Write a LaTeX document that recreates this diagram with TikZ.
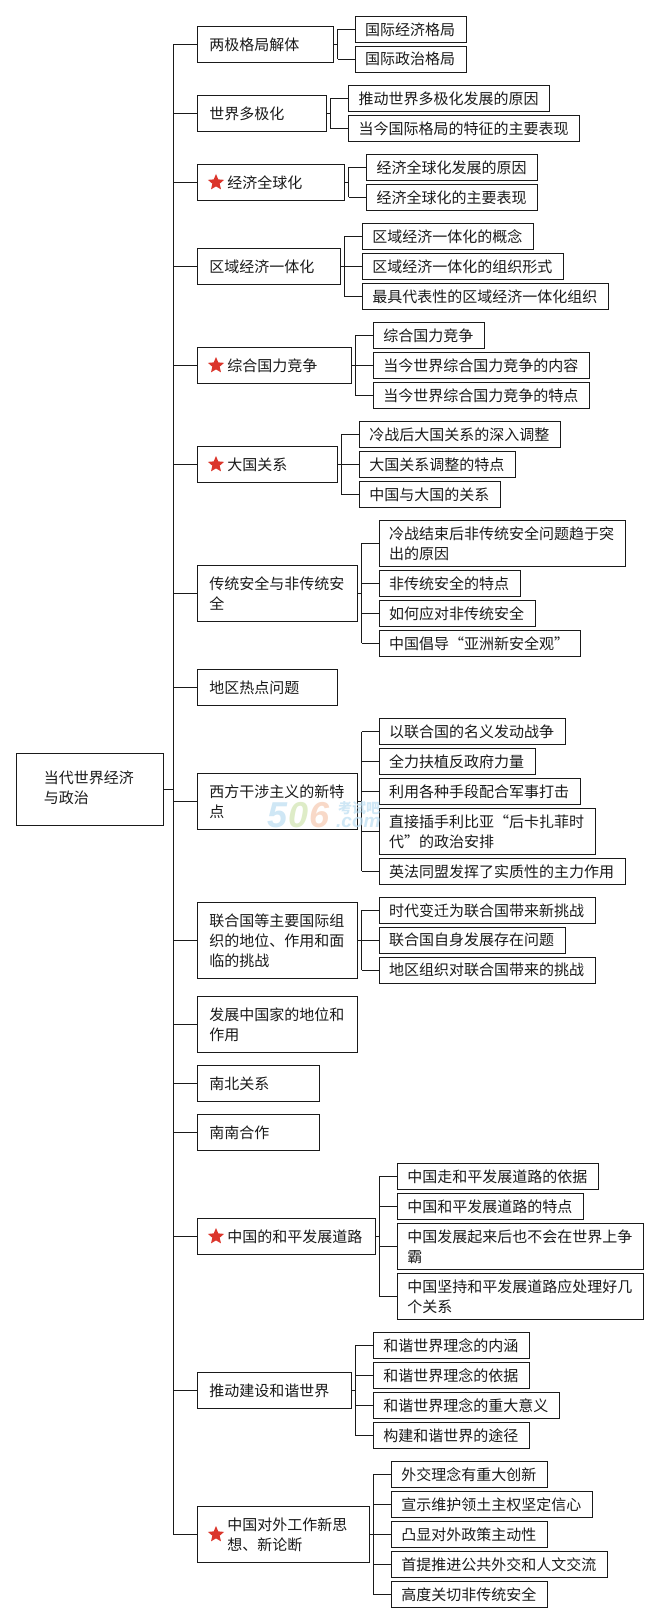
\documentclass[tikz,border=0pt]{standalone}
\usepackage{fontspec}
\setmainfont{Noto Sans CJK SC}
\newfontfamily\latinwm{Liberation Sans}
\usetikzlibrary{shapes.geometric}
\definecolor{ink}{HTML}{1A1A1A}
\definecolor{starred}{HTML}{DB352B}
\definecolor{wmblue}{HTML}{BFDFF2}
\definecolor{wmgreen}{HTML}{D3E6B5}
\definecolor{wmorange}{HTML}{F6CDB6}
\tikzset{
  x=1pt,y=-1pt,
  boxnode/.style={draw=ink,line width=0.9pt,fill=white,text=ink,rectangle,align=left,inner ysep=0pt,font=\fontsize{15}{20}\selectfont},
  link/.style={draw=ink,line width=0.9pt},
  starmark/.style={star,star points=5,star point ratio=2.2,fill=starred,draw=none,inner sep=0pt,minimum size=17pt},
  wm/.style={inner sep=0pt,anchor=west}
}
% name, x1, y1, x2, y2, left padding, text
\newcommand{\bx}[7]{%
  \pgfmathsetmacro{\bw}{#4-#2}\pgfmathsetmacro{\bh}{#5-#3}%
  \pgfmathsetmacro{\bcx}{(#2+#4)/2}\pgfmathsetmacro{\bcy}{(#3+#5)/2}%
  \node[boxnode,minimum width=\bw pt,minimum height=\bh pt,inner xsep=0pt,text width=\bw pt,anchor=center] (#1) at (\bcx,\bcy) {#7};}
% parent, bus x, kids
\newcommand{\kids}[3]{%
  \coordinate (#1bus) at (#2,0);
  \draw[link] (#1.east) -- (#1bus |- #1.east);
  \foreach \k in {#3}{\draw[link] (#1bus |- \k.west) -- (\k.west);}
}
\newcommand{\vbus}[3]{\draw[link] (#1bus |- #2.west) -- (#1bus |- #3.west);}
\begin{document}
\begin{tikzpicture}
\useasboundingbox (0,0) rectangle (660,1624);
\fill[white] (0,0) rectangle (660,1624);
% root
\node[boxnode,minimum width=147pt,minimum height=72pt,inner xsep=0pt] (root) at (89.85,789.3) {\makebox[147pt][l]{\hspace*{27.6pt}\begin{tabular}{@{}l@{}}当代世界经济\\与政治\end{tabular}}};
% level one
\bx{a}{197.4}{26.7}{333.3}{62.3}{12}{\hspace*{12pt}两极格局解体}
\bx{b}{197.4}{95.7}{326.2}{131.3}{12}{\hspace*{12pt}世界多极化}
\bx{c}{197.4}{164.3}{344.3}{200.3}{30}{\hspace*{30pt}经济全球化}
\bx{d}{197.4}{248.3}{340.5}{284.3}{12}{\hspace*{12pt}区域经济一体化}
\bx{e}{197.4}{347.7}{351.4}{383.3}{30}{\hspace*{30pt}综合国力竞争}
\bx{f}{197.4}{446.7}{337.5}{482.3}{30}{\hspace*{30pt}大国关系}
\bx{g}{197.4}{565.3}{357.7}{621.3}{12}{\hspace*{12pt}传统安全与非传统安\\\hspace*{12pt}全}
\bx{h}{197.4}{669.7}{337.5}{705.3}{12}{\hspace*{12pt}地区热点问题}
\bx{i}{197.4}{773.7}{357.7}{829.3}{12}{\hspace*{12pt}西方干涉主义的新特\\\hspace*{12pt}点}
\bx{j}{197.4}{902.7}{357.7}{978.3}{12}{\hspace*{12pt}联合国等主要国际组\\\hspace*{12pt}织的地位、作用和面\\\hspace*{12pt}临的挑战}
\bx{k}{197.4}{996.7}{357.7}{1052.3}{12}{\hspace*{12pt}发展中国家的地位和\\\hspace*{12pt}作用}
\bx{l}{197.4}{1065.7}{319.4}{1101.3}{12}{\hspace*{12pt}南北关系}
\bx{m}{197.4}{1114.7}{319.4}{1150.3}{12}{\hspace*{12pt}南南合作}
\bx{n}{197.4}{1218.7}{375.4}{1254.3}{30}{\hspace*{30pt}中国的和平发展道路}
\bx{o}{197.4}{1372.7}{351.4}{1408.3}{12}{\hspace*{12pt}推动建设和谐世界}
\bx{p}{197.4}{1506.7}{369.5}{1562.3}{30}{\hspace*{30pt}中国对外工作新思\\\hspace*{30pt}想、新论断}
% stars
\node[starmark] (sc) at (216,182.5) {};
\node[starmark] (se) at (216,365.5) {};
\node[starmark] (sf) at (216,464.5) {};
\node[starmark] (sn) at (216,1236.5) {};
\node[starmark] (sp) at (216,1534.5) {};
% leaves
\bx{a1}{355.2}{16.3}{466.3}{42.3}{10}{\hspace*{10pt}国际经济格局}
\bx{a2}{355.2}{46.3}{466.3}{72.3}{10}{\hspace*{10pt}国际政治格局}
\bx{b1}{348.5}{85.7}{549.2}{111.3}{10}{\hspace*{10pt}推动世界多极化发展的原因}
\bx{b2}{348.5}{115.7}{579.5}{141.3}{10}{\hspace*{10pt}当今国际格局的特征的主要表现}
\bx{c1}{366.6}{154.3}{537.5}{180.3}{10}{\hspace*{10pt}经济全球化发展的原因}
\bx{c2}{366.6}{184.3}{537.5}{210.3}{10}{\hspace*{10pt}经济全球化的主要表现}
\bx{d1}{362.4}{223.7}{533.7}{249.7}{10}{\hspace*{10pt}区域经济一体化的概念}
\bx{d2}{362.4}{253.7}{563.6}{279.3}{10}{\hspace*{10pt}区域经济一体化的组织形式}
\bx{d3}{362.4}{283.7}{608.6}{309.3}{10}{\hspace*{10pt}最具代表性的区域经济一体化组织}
\bx{e1}{373.3}{322.3}{484.4}{348.3}{10}{\hspace*{10pt}综合国力竞争}
\bx{e2}{373.3}{352.3}{589.2}{378.3}{10}{\hspace*{10pt}当今世界综合国力竞争的内容}
\bx{e3}{373.3}{382.3}{589.2}{408.3}{10}{\hspace*{10pt}当今世界综合国力竞争的特点}
\bx{f1}{359.4}{421.3}{560.6}{447.3}{10}{\hspace*{10pt}冷战后大国关系的深入调整}
\bx{f2}{359.4}{451.3}{515.6}{477.3}{10}{\hspace*{10pt}大国关系调整的特点}
\bx{f3}{359.4}{481.3}{500.4}{507.3}{10}{\hspace*{10pt}中国与大国的关系}
\bx{g1}{379.2}{520.3}{625.4}{566.3}{10}{\hspace*{10pt}冷战结束后非传统安全问题趋于突\\\hspace*{10pt}出的原因}
\bx{g2}{379.2}{570.3}{520.6}{596.3}{10}{\hspace*{10pt}非传统安全的特点}
\bx{g3}{379.2}{600.3}{535.4}{626.3}{10}{\hspace*{10pt}如何应对非传统安全}
\bx{g4}{379.2}{630.3}{580.4}{656.3}{10}{\hspace*{10pt}中国倡导“亚洲新安全观”}
\bx{i1}{379.2}{718.7}{565.7}{744.3}{10}{\hspace*{10pt}以联合国的名义发动战争}
\bx{i2}{379.2}{748.7}{535.4}{774.3}{10}{\hspace*{10pt}全力扶植反政府力量}
\bx{i3}{379.2}{778.7}{580.4}{804.3}{10}{\hspace*{10pt}利用各种手段配合军事打击}
\bx{i4}{379.2}{808.3}{595.5}{854.3}{10}{\hspace*{10pt}直接插手利比亚“后卡扎菲时\\\hspace*{10pt}代”的政治安排}
\bx{i5}{379.2}{858.3}{625.4}{884.3}{10}{\hspace*{10pt}英法同盟发挥了实质性的主力作用}
\bx{j1}{379.2}{897.3}{595.5}{923.3}{10}{\hspace*{10pt}时代变迁为联合国带来新挑战}
\bx{j2}{379.2}{927.3}{565.7}{953.3}{10}{\hspace*{10pt}联合国自身发展存在问题}
\bx{j3}{379.2}{957.3}{595.5}{983.3}{10}{\hspace*{10pt}地区组织对联合国带来的挑战}
\bx{n1}{397.3}{1163.7}{598.5}{1189.3}{10}{\hspace*{10pt}中国走和平发展道路的依据}
\bx{n2}{397.3}{1193.7}{583.3}{1219.3}{10}{\hspace*{10pt}中国和平发展道路的特点}
\bx{n3}{397.3}{1223.7}{643.5}{1269.3}{10}{\hspace*{10pt}中国发展起来后也不会在世界上争\\\hspace*{10pt}霸}
\bx{n4}{397.3}{1273.7}{643.5}{1319.3}{10}{\hspace*{10pt}中国坚持和平发展道路应处理好几\\\hspace*{10pt}个关系}
\bx{o1}{373.3}{1332.3}{529.5}{1358.3}{10}{\hspace*{10pt}和谐世界理念的内涵}
\bx{o2}{373.3}{1362.3}{529.5}{1388.3}{10}{\hspace*{10pt}和谐世界理念的依据}
\bx{o3}{373.3}{1392.3}{559.3}{1418.3}{10}{\hspace*{10pt}和谐世界理念的重大意义}
\bx{o4}{373.3}{1422.3}{529.5}{1448.3}{10}{\hspace*{10pt}构建和谐世界的途径}
\bx{p1}{391.4}{1461.7}{547.6}{1487.7}{10}{\hspace*{10pt}外交理念有重大创新}
\bx{p2}{391.4}{1491.7}{592.2}{1517.7}{10}{\hspace*{10pt}宣示维护领土主权坚定信心}
\bx{p3}{391.4}{1521.7}{547.6}{1547.7}{10}{\hspace*{10pt}凸显对外政策主动性}
\bx{p4}{391.4}{1551.7}{607.3}{1577.7}{10}{\hspace*{10pt}首提推进公共外交和人文交流}
\bx{p5}{391.4}{1581.7}{547.6}{1607.7}{10}{\hspace*{10pt}高度关切非传统安全}
% trunk
\coordinate (trunk) at (173.4,0);
\draw[link] (root.east) -- (trunk |- root.east);
\draw[link] (trunk |- a.west) -- (trunk |- p.west);
\foreach \q in {a,b,c,d,e,f,g,h,i,j,k,l,m,n,o,p}{\draw[link] (trunk |- \q.west) -- (\q.west);}
% branches
\kids{a}{337.5}{a1,a2}\vbus{a}{a1}{a2}
\kids{b}{330.4}{b1,b2}\vbus{b}{b1}{b2}
\kids{c}{348.5}{c1,c2}\vbus{c}{c1}{c2}
\kids{d}{344.3}{d1,d2,d3}\vbus{d}{d1}{d3}
\kids{e}{355.2}{e1,e2,e3}\vbus{e}{e1}{e3}
\kids{f}{341.3}{f1,f2,f3}\vbus{f}{f1}{f3}
\kids{g}{361.5}{g1,g2,g3,g4}\vbus{g}{g1}{g4}
\kids{i}{361.5}{i1,i2,i3,i4,i5}\vbus{i}{i1}{i5}
\kids{j}{361.5}{j1,j2,j3}\vbus{j}{j1}{j3}
\kids{n}{379.2}{n1,n2,n3,n4}\vbus{n}{n1}{n4}
\kids{o}{355.2}{o1,o2,o3,o4}\vbus{o}{o1}{o4}
\kids{p}{373.3}{p1,p2,p3,p4,p5}\vbus{p}{p1}{p5}
% watermark
\node[wm,opacity=.75,text=wmblue,font=\latinwm\bfseries\itshape\fontsize{36}{36}\selectfont] (wmfive) at (267,815) {5};
\node[wm,opacity=.75,text=wmgreen,font=\latinwm\bfseries\itshape\fontsize{36}{36}\selectfont] (wmzero) at (288,815) {0};
\node[wm,opacity=.75,text=wmorange,font=\latinwm\bfseries\itshape\fontsize{36}{36}\selectfont] (wmsix) at (309,815) {6};
\node[wm,opacity=.75,text=wmblue,font=\fontsize{14}{14}\selectfont\bfseries] (wmtext) at (338,808) {考试吧};
\node[wm,opacity=.75,text=wmblue,font=\latinwm\bfseries\itshape\fontsize{19}{19}\selectfont] (wmcom) at (336,822) {.com};
\end{tikzpicture}
\end{document}
